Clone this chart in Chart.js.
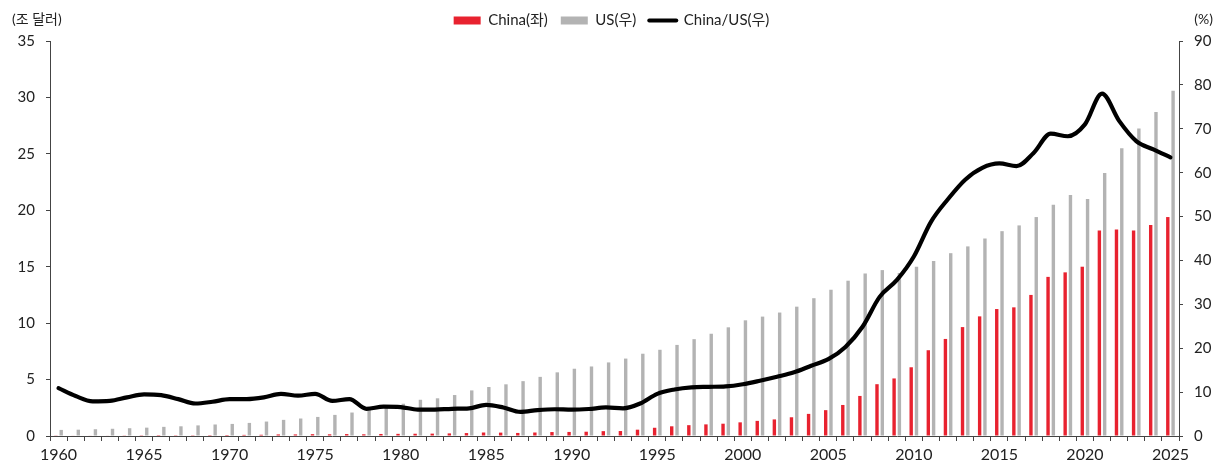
<!DOCTYPE html>
<html lang="ko">
<head>
<meta charset="utf-8">
<title>China vs US GDP</title>
<script src="https://cdn.jsdelivr.net/npm/chart.js@4/dist/chart.umd.min.js"></script>
<style>
  html, body { margin: 0; padding: 0; background: #fff; }
  #wrap { position: relative; width: 1223px; height: 473px; }
</style>
</head>
<body>
<div id="wrap"><canvas id="chart"></canvas></div>
<script>
// Years on the category axis
const years = [
  '1960','1961','1962','1963','1964','1965','1966','1967','1968','1969',
  '1970','1971','1972','1973','1974','1975','1976','1977','1978','1979',
  '1980','1981','1982','1983','1984','1985','1986','1987','1988','1989',
  '1990','1991','1992','1993','1994','1995','1996','1997','1998','1999',
  '2000','2001','2002','2003','2004','2005','2006','2007','2008','2009',
  '2010','2011','2012','2013','2014','2015','2016','2017','2018','2019',
  '2020','2021','2022','2023','2024','2025'
];

// China nominal GDP, trillion USD (left axis)
const chinaGdp = [
  0.06, 0.05, 0.05, 0.05, 0.06, 0.07, 0.08, 0.07, 0.07, 0.08,
  0.09, 0.10, 0.11, 0.14, 0.14, 0.16, 0.15, 0.17, 0.15, 0.18,
  0.19, 0.20, 0.21, 0.23, 0.26, 0.31, 0.30, 0.27, 0.31, 0.35,
  0.36, 0.38, 0.43, 0.44, 0.56, 0.73, 0.86, 0.96, 1.03, 1.09,
  1.21, 1.34, 1.47, 1.66, 1.96, 2.29, 2.75, 3.55, 4.59, 5.10,
  6.09, 7.60, 8.60, 9.65, 10.6, 11.25, 11.4, 12.5, 14.1, 14.5,
  15.0, 18.2, 18.3, 18.2, 18.7, 19.4
];

// US nominal GDP, trillion USD (left axis)
const usGdp = [
  0.54, 0.56, 0.60, 0.64, 0.69, 0.74, 0.81, 0.86, 0.94, 1.02,
  1.07, 1.16, 1.28, 1.43, 1.55, 1.69, 1.87, 2.08, 2.35, 2.63,
  2.86, 3.21, 3.34, 3.63, 4.04, 4.34, 4.58, 4.86, 5.24, 5.64,
  5.96, 6.16, 6.52, 6.86, 7.29, 7.64, 8.07, 8.58, 9.06, 9.63,
  10.25, 10.58, 10.94, 11.46, 12.21, 12.96, 13.76, 14.4, 14.7, 14.45,
  15.0, 15.5, 16.2, 16.8, 17.5, 18.15, 18.66, 19.4, 20.5, 21.35,
  21.0, 23.3, 25.5, 27.25, 28.7, 30.6
];

// China GDP as a share of US GDP, % (right axis)
const chinaUsRatio = [
  10.9, 9.1, 7.9, 8.0, 8.8, 9.5, 9.3, 8.4, 7.4, 7.8,
  8.4, 8.4, 8.8, 9.6, 9.2, 9.6, 8.0, 8.4, 6.2, 6.7,
  6.6, 6.0, 6.0, 6.2, 6.3, 7.1, 6.5, 5.5, 5.9, 6.1,
  6.0, 6.15, 6.5, 6.3, 7.4, 9.6, 10.6, 11.1, 11.2, 11.3,
  11.8, 12.6, 13.5, 14.5, 16.0, 17.5, 20.3, 24.9, 31.7, 35.5,
  40.9, 48.8, 54.0, 58.4, 61.1, 62.1, 61.5, 64.5, 68.9, 68.3,
  71.0, 78.0, 71.8, 67.2, 65.3, 63.5
];

// Axis scales and labels
const leftTicks = { min: 0, max: 35, step: 5 };
const rightTicks = { min: 0, max: 90, step: 10 };
const leftUnit = '(조 달러)';
const rightUnit = '(%)';
const seriesNames = ['China(좌)', 'US(우)', 'China/US(우)'];

const FONT = "Lato, 'Noto Sans CJK KR', 'Noto Sans', sans-serif";
const TEXT = '#222';
const AXIS = '#444';
const RED = '#E8222F';
const GREY = '#B3B3B3';

// Fixed legend band height so the plot area starts right under it
const legendBand = {
  id: 'legendBand',
  beforeInit(chart) {
    const lg = chart.legend;
    if (!lg) return;
    const fit = lg.fit;
    lg.fit = function () { fit.call(this); this.height = 41; };
  }
};

// Unit captions above each value axis
const unitCaptions = {
  id: 'unitCaptions',
  afterDraw(chart) {
    const { ctx } = chart;
    ctx.save();
    ctx.font = '14px ' + FONT;
    ctx.fillStyle = TEXT;
    ctx.textBaseline = 'middle';
    ctx.textAlign = 'left';
    ctx.fillText(leftUnit, 12, 19);
    ctx.textAlign = 'right';
    ctx.fillText(rightUnit, 1213, 19);
    ctx.restore();
  }
};

new Chart(document.getElementById('chart'), {
  data: {
    labels: years,
    datasets: [
      {
        type: 'bar',
        label: seriesNames[0],
        data: chinaGdp,
        backgroundColor: RED,
        yAxisID: 'yL',
        order: 2,
        categoryPercentage: 0.62,
        barPercentage: 0.64
      },
      {
        type: 'bar',
        label: seriesNames[1],
        data: usGdp,
        backgroundColor: GREY,
        yAxisID: 'yL',
        order: 2,
        categoryPercentage: 0.62,
        barPercentage: 0.64
      },
      {
        type: 'line',
        label: seriesNames[2],
        data: chinaUsRatio,
        borderColor: '#000',
        backgroundColor: '#000',
        borderWidth: 4.2,
        borderCapStyle: 'round',
        borderJoinStyle: 'round',
        pointRadius: 0,
        pointHoverRadius: 0,
        tension: 0.4,
        cubicInterpolationMode: 'monotone',
        yAxisID: 'yR',
        order: 1
      }
    ]
  },
  options: {
    responsive: true,
    maintainAspectRatio: false,
    animation: false,
    layout: { padding: 0 },
    plugins: {
      tooltip: { enabled: false },
      legend: {
        position: 'top',
        align: 'center',
        labels: {
          usePointStyle: true,
          pointStyleWidth: 27,
          boxHeight: 8,
          padding: 13,
          color: TEXT,
          font: { family: FONT, size: 15 },
          generateLabels(chart) {
            return chart.data.datasets.map((ds, i) => {
              const isLine = ds.type === 'line';
              return {
                text: ds.label,
                fillStyle: isLine ? '#000' : ds.backgroundColor,
                strokeStyle: isLine ? '#000' : ds.backgroundColor,
                lineWidth: isLine ? 4 : 0,
                lineCap: 'round',
                pointStyle: isLine ? 'line' : 'rect',
                fontColor: TEXT,
                hidden: false,
                datasetIndex: i
              };
            });
          }
        }
      }
    },
    scales: {
      x: {
        type: 'category',
        offset: true,
        grid: {
          offset: true,
          drawOnChartArea: false,
          drawTicks: true,
          tickLength: 5,
          color: AXIS
        },
        border: { display: true, color: AXIS, width: 1 },
        ticks: {
          autoSkip: false,
          maxRotation: 0,
          minRotation: 0,
          padding: 4,
          color: TEXT,
          font: { family: FONT, size: 16 },
          callback(value, index) {
            const y = Number(years[index]);
            return y % 5 === 0 ? years[index] : '';
          }
        },
        afterFit(scale) { scale.height = 37; }
      },
      yL: {
        type: 'linear',
        position: 'left',
        min: leftTicks.min,
        max: leftTicks.max,
        grid: {
          drawOnChartArea: false,
          drawTicks: true,
          tickLength: 4,
          color: AXIS
        },
        border: { display: true, color: AXIS, width: 1 },
        ticks: {
          stepSize: leftTicks.step,
          padding: 11,
          color: TEXT,
          font: { family: FONT, size: 15 }
        },
        afterFit(scale) { scale.width = 50; }
      },
      yR: {
        type: 'linear',
        position: 'right',
        min: rightTicks.min,
        max: rightTicks.max,
        grid: {
          drawOnChartArea: false,
          drawTicks: true,
          tickLength: 4,
          color: AXIS
        },
        border: { display: true, color: AXIS, width: 1 },
        ticks: {
          stepSize: rightTicks.step,
          padding: 11,
          color: TEXT,
          font: { family: FONT, size: 15 }
        },
        afterFit(scale) { scale.width = 44; }
      }
    }
  },
  plugins: [legendBand, unitCaptions]
});
</script>
</body>
</html>
